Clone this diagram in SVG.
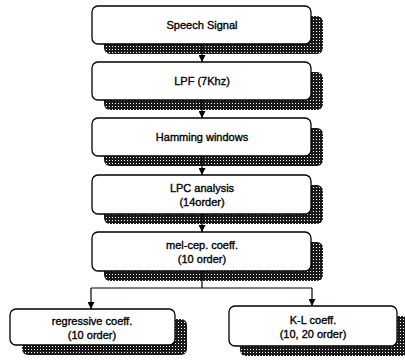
<svg xmlns="http://www.w3.org/2000/svg" width="405" height="362" viewBox="0 0 405 362">
<defs>
<pattern id="dots" width="3" height="3" patternUnits="userSpaceOnUse">
<rect width="3" height="3" fill="#1a1a1a"/>
<rect x="1" y="1" width="1" height="1" fill="#ffffff"/>
</pattern>
<marker id="arr" viewBox="0 0 10 10" refX="10" refY="5" markerWidth="7" markerHeight="7" orient="auto" markerUnits="userSpaceOnUse">
<path d="M0,0 L10,5 L0,10 z" fill="#000"/>
</marker>
</defs>
<style>
.sh{fill:url(#dots);}
.bx{fill:#fff;stroke:#000;stroke-width:1.3;}
.t{font-family:"Liberation Sans",Arial,sans-serif;font-size:11px;text-anchor:middle;fill:#000;stroke:#000;stroke-width:0.35;}
.c{fill:none;stroke:#000;stroke-width:1.2;}
</style>
<rect width="405" height="362" fill="#fff"/>
<g id="n1">
<rect class="sh" x="104" y="16" width="219" height="38" rx="6"/>
<rect class="bx" x="92" y="6" width="219" height="38" rx="6"/>
<text class="t" x="202" y="29">Speech Signal</text>
</g>
<g id="n2">
<rect class="sh" x="104" y="72" width="219" height="38" rx="6"/>
<rect class="bx" x="92" y="62" width="219" height="38" rx="6"/>
<text class="t" x="202" y="85">LPF (7Khz)</text>
</g>
<g id="n3">
<rect class="sh" x="104" y="128" width="219" height="38" rx="6"/>
<rect class="bx" x="92" y="118" width="219" height="38" rx="6"/>
<text class="t" x="202" y="141">Hamming windows</text>
</g>
<g id="n4">
<rect class="sh" x="104" y="185" width="219" height="39" rx="6"/>
<rect class="bx" x="92" y="175" width="219" height="39" rx="6"/>
<text class="t" x="202" y="192">LPC analysis</text>
<text class="t" x="202" y="206">(14order)</text>
</g>
<g id="n5">
<rect class="sh" x="104" y="242" width="219" height="39" rx="6"/>
<rect class="bx" x="92" y="232" width="219" height="39" rx="6"/>
<text class="t" x="202" y="249">mel-cep. coeff.</text>
<text class="t" x="202" y="263">(10 order)</text>
</g>
<g id="n6">
<rect class="sh" x="22" y="319" width="165" height="36" rx="6"/>
<rect class="bx" x="10" y="309" width="165" height="36" rx="6"/>
<text class="t" x="92" y="325">regressive coeff.</text>
<text class="t" x="92" y="339">(10 order)</text>
</g>
<g id="n7">
<rect class="sh" x="240" y="316" width="168" height="40" rx="6"/>
<rect class="bx" x="229" y="306" width="168" height="40" rx="6"/>
<text class="t" x="313" y="324">K-L coeff.</text>
<text class="t" x="313" y="338">(10, 20 order)</text>
</g>
<g id="connectors">
<path class="c" d="M202,44 V62" marker-end="url(#arr)"/>
<path class="c" d="M202,100 V118" marker-end="url(#arr)"/>
<path class="c" d="M202,156 V175" marker-end="url(#arr)"/>
<path class="c" d="M202,214 V232" marker-end="url(#arr)"/>
<path class="c" d="M202,271 V288 M91,288 H312"/>
<path class="c" d="M91,288 V309" marker-end="url(#arr)"/>
<path class="c" d="M312,288 V306" marker-end="url(#arr)"/>
</g>
</svg>
